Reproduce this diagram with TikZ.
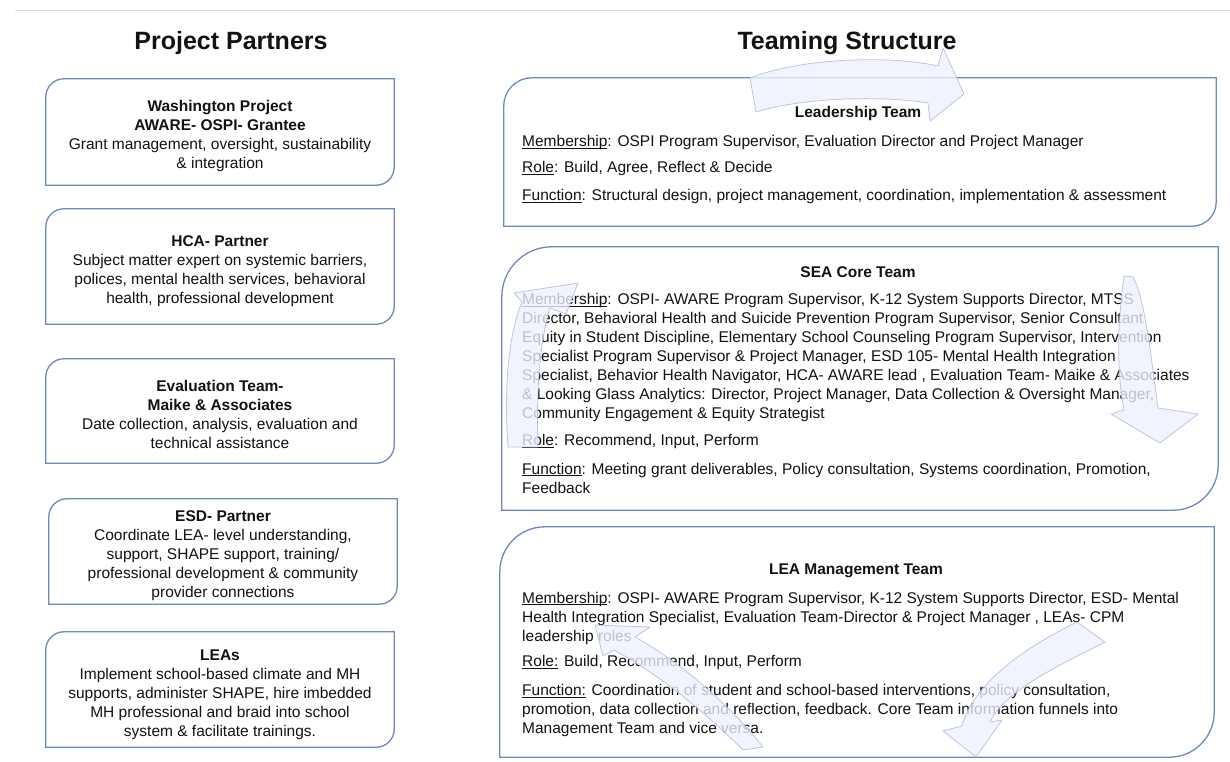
\documentclass[tikz,border=0pt]{standalone}
\usepackage{fontspec}
\setmainfont{Liberation Sans}
\usetikzlibrary{calc}
\definecolor{boxblue}{RGB}{108,138,192}
\definecolor{arrfill}{RGB}{238,242,252}
\definecolor{arredge}{RGB}{180,193,228}
\definecolor{txt}{RGB}{18,18,18}
\newcommand\ulin[1]{\setbox0\hbox{#1}\rlap{\rule[-2.2pt]{\wd0}{0.8pt}}#1}
\newcommand\diagframe[3]{%
\draw[frame] (#1.south west) -- ($(#1.north west)+(0,#2)$)
 .. controls ($(#1.north west)+(0,0.448*#2)$) and ($(#1.north west)+(0.448*#2,0)$) .. ($(#1.north west)+(#2,0)$)
 -- (#1.north east) -- ($(#1.south east)+(0,-#3)$)
 .. controls ($(#1.south east)+(0,-0.448*#3)$) and ($(#1.south east)+(-0.448*#3,0)$) .. ($(#1.south east)+(-#3,0)$)
 -- cycle;}
\begin{document}
\begin{tikzpicture}[x=1pt,y=-1pt,
  frame/.style={draw=boxblue, line width=1.3pt},
  title/.style={font=\bfseries\fontsize{25}{30}\selectfont, inner sep=0pt, text=txt},
  ptext/.style={align=center, inner sep=0pt, font=\fontsize{15.5}{19}\selectfont, text=txt},
  rbox/.style={inner sep=0pt},
  head/.style={font=\bfseries\fontsize{15.5}{19}\selectfont, inner sep=0pt, text=txt},
  body/.style={font=\fontsize{15.5}{19}\selectfont, align=left, anchor=west, inner sep=0pt, text=txt},
  bigarrow/.style={fill=arrfill, fill opacity=0.78, draw=arredge, draw opacity=0.9, line width=0.8pt, line join=round}]
\useasboundingbox (0,0) rectangle (1230,761);
\fill[white] (0,0) rectangle (1230,761);
\coordinate (rl) at (15,10);
\coordinate (rr) at (1230,10);
\draw[black!13, line width=1pt] (rl) -- (rr);

\node[title] (t1) at (231,43) {Project Partners};
\node[title] (t2) at (847,43) {Teaming Structure};

% left boxes
\node[rbox, minimum width=348pt, minimum height=106pt] (pp1) at (220,132) {};
\node[rbox, minimum width=348pt, minimum height=115pt] (pp2) at (220,266.5) {};
\node[rbox, minimum width=348pt, minimum height=104pt] (pp3) at (220,411) {};
\node[rbox, minimum width=348pt, minimum height=105pt] (pp4) at (223,551.5) {};
\node[rbox, minimum width=348pt, minimum height=115pt] (pp5) at (220,689.5) {};
\foreach \b in {pp1,pp2,pp3,pp4,pp5}{\diagframe{\b}{18}{18}}

\node[ptext] (pp1t) at (220,136) {\textbf{Washington Project}\\\textbf{AWARE- OSPI- Grantee}\\Grant management, oversight, sustainability\\\& integration};
\node[ptext] (pp2t) at (220,271.5) {\textbf{HCA- Partner}\\Subject matter expert on systemic barriers,\\polices, mental health services, behavioral\\health, professional development};
\node[ptext] (pp3t) at (220,414.5) {\textbf{Evaluation Team-}\\\textbf{Maike \& Associates}\\Date collection, analysis, evaluation and\\technical assistance};
\node[ptext] (pp4t) at (223,556) {\textbf{ESD- Partner}\\Coordinate LEA- level understanding,\\support, SHAPE support, training/\\professional development \& community\\provider connections};
\node[ptext] (pp5t) at (220,694.5) {\textbf{LEAs}\\Implement school-based climate and MH\\supports, administer SHAPE, hire imbedded\\MH professional and braid into school\\system \& facilitate trainings.};

% right boxes
\node[rbox, minimum width=712pt, minimum height=148pt] (lead) at (860,152) {};
\node[rbox, minimum width=716pt, minimum height=263pt] (sea) at (860,378.5) {};
\node[rbox, minimum width=714pt, minimum height=230pt] (lea) at (857,642) {};
\diagframe{lead}{28}{24}
\diagframe{sea}{50}{45}
\diagframe{lea}{45}{45}

\node[head] (leadh) at (858,113.5) {Leadership Team};
\node[body] (leadm) at (522,142.5) {\ulin{Membership}: OSPI Program Supervisor, Evaluation Director and Project Manager};
\node[body] (leadr) at (522,168.5) {\ulin{Role}: Build, Agree, Reflect \& Decide};
\node[body] (leadf) at (522,196.5) {\ulin{Function}: Structural design, project management, coordination, implementation \& assessment};

\node[head] (seah) at (858,272.5) {SEA Core Team};
\node[body] (seam) at (522,357.5) {\ulin{Membership}: OSPI- AWARE Program Supervisor, K-12 System Supports Director, MTSS\\Director, Behavioral Health and Suicide Prevention Program Supervisor, Senior Consultant\\Equity in Student Discipline, Elementary School Counseling Program Supervisor, Intervention\\Specialist Program Supervisor \& Project Manager, ESD 105- Mental Health Integration\\Specialist, Behavior Health Navigator, HCA- AWARE lead , Evaluation Team- Maike \& Associates\\\& Looking Glass Analytics: Director, Project Manager, Data Collection \& Oversight Manager,\\Community Engagement \& Equity Strategist};
\node[body] (sear) at (522,441.5) {\ulin{Role}: Recommend, Input, Perform};
\node[body] (seaf) at (522,478) {\ulin{Function}: Meeting grant deliverables, Policy consultation, Systems coordination, Promotion,\\Feedback};

\node[head] (leah) at (856,570.5) {LEA Management Team};
\node[body] (leam) at (522,618) {\ulin{Membership}: OSPI- AWARE Program Supervisor, K-12 System Supports Director, ESD- Mental\\Health Integration Specialist, Evaluation Team-Director \& Project Manager , LEAs- CPM\\leadership roles};
\node[body] (lear) at (522,662.5) {\ulin{Role:} Build, Recommend, Input, Perform};
\node[body] (leaf) at (522,710.5) {\ulin{Function:} Coordination of student and school-based interventions, policy consultation,\\promotion, data collection and reflection, feedback. Core Team information funnels into\\Management Team and vice versa.};

% decorative cycle arrows
\draw[bigarrow] (750,78) .. controls (800,58) and (890,55) .. (938,66) -- (943,48) -- (964,94) -- (930,121) -- (928,103) .. controls (880,95) and (800,98) .. (756,112) -- cycle;
\draw[bigarrow] (1124,276) .. controls (1118,320) and (1116,370) .. (1124,410) -- (1111,414) -- (1160,443) -- (1198,414) -- (1158,408) .. controls (1150,350) and (1145,300) .. (1133,277) -- cycle;
\draw[bigarrow] (1077,622) .. controls (1030,645) and (975,680) .. (962,726) -- (943,731) -- (976,757) -- (1002,720) -- (990,722) .. controls (1005,690) and (1060,665) .. (1105,642) -- cycle;
\draw[bigarrow] (743,750) .. controls (705,712) and (660,675) .. (614,650) -- (603,656) -- (595,625) -- (650,627) -- (635,637) .. controls (680,662) and (730,705) .. (763,747) -- cycle;
\draw[bigarrow] (508,447) .. controls (504,390) and (508,335) .. (522,302) -- (514,293) -- (578,283) -- (566,314) -- (550,308) .. controls (540,340) and (536,390) .. (538,447) -- cycle;
\end{tikzpicture}
\end{document}
